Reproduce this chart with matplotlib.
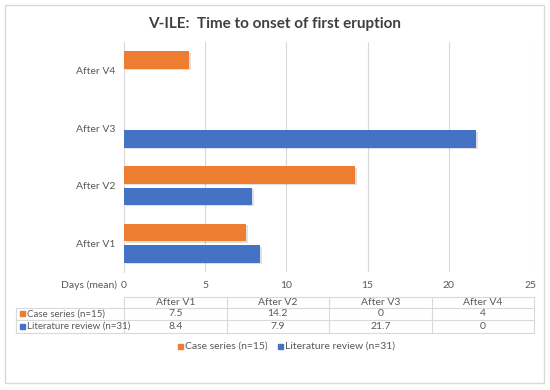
import matplotlib
matplotlib.use("Agg")
import matplotlib.pyplot as plt
from matplotlib.patches import Rectangle
import numpy as np

plt.rcParams['font.family'] = ['Lato', 'DejaVu Sans']

categories = ["After V1", "After V2", "After V3", "After V4"]
series_names = ["Case series (n=15)", "Literature review (n=31)"]
case_series = [7.5, 14.2, 0, 4]
literature = [8.4, 7.9, 21.7, 0]
case_labels = ["7.5", "14.2", "0", "4"]
lit_labels = ["8.4", "7.9", "21.7", "0"]
xticks = [0, 5, 10, 15, 20, 25]

orange = "#ED7D31"
blue = "#4472C4"
grey_txt = "#595959"
grid_c = "#D9D9D9"

W, H = 550, 390
fig = plt.figure(figsize=(W / 100, H / 100), dpi=100)


def fx(px):
    return px / W


def fy(py):
    return 1 - py / H


# outer border
fig.patches.append(Rectangle((fx(5), fy(383)), fx(539), 378 / H, transform=fig.transFigure,
                             fill=False, edgecolor=grid_c, lw=1))

ax_l, ax_r, ax_t, ax_b = 124, 530, 42, 272
ax = fig.add_axes([fx(ax_l), fy(ax_b), fx(ax_r - ax_l), (ax_b - ax_t) / H])

y = np.arange(len(categories))
h = 0.3
off = 0.185
for vals, col, d in [(case_series, orange, off), (literature, blue, -off)]:
    # soft shadow
    ax.barh(y + d - 0.025, vals, height=h, left=0.12, color="#000000", alpha=0.12, zorder=2)
    ax.barh(y + d, vals, height=h, color=col, zorder=3)

ax.set_xlim(0, 25)
ax.set_ylim(-0.5, len(categories) - 0.5)
ax.set_xticks(xticks)
ax.set_xticklabels([])
ax.tick_params(axis='x', length=0)
ax.tick_params(axis='y', length=0, labelsize=7.5, labelcolor=grey_txt, pad=6)
ax.set_yticks(y)
ax.set_yticklabels(categories)
ax.grid(axis='x', color=grid_c, lw=0.8, zorder=0)
for s in ["top", "right", "bottom"]:
    ax.spines[s].set_visible(False)
ax.spines["left"].set_color(grid_c)

fig.text(0.5, fy(24), "V-ILE:  Time to onset of first eruption", ha="center", va="center",
         fontsize=11, fontweight="bold", color="#404040")

# x tick labels row
for t in xticks:
    px = ax_l + (ax_r - ax_l) * t / 25
    fig.text(fx(px), fy(285), str(t), ha="center", va="center", fontsize=7.5, color=grey_txt)
fig.text(fx(117), fy(285), "Days (mean)", ha="right", va="center", fontsize=7.5, color=grey_txt)

# data table
tab_r = 534
col_w = (tab_r - ax_l) / len(categories)
row_y = [297, 307.5, 320, 333]
lab_l = 16


def hline(x0, x1, yy):
    fig.add_artist(plt.Line2D([fx(x0), fx(x1)], [fy(yy), fy(yy)], color=grid_c, lw=0.8))


def vline(xx, y0, y1):
    fig.add_artist(plt.Line2D([fx(xx), fx(xx)], [fy(y0), fy(y1)], color=grid_c, lw=0.8))


hline(ax_l, tab_r, row_y[0])
for yy in row_y[1:]:
    hline(lab_l, tab_r, yy)
vline(lab_l, row_y[1], row_y[3])
for i in range(len(categories) + 1):
    vline(ax_l + i * col_w, row_y[0], row_y[3])

for i, c in enumerate(categories):
    cx = ax_l + (i + 0.5) * col_w
    fig.text(fx(cx), fy((row_y[0] + row_y[1]) / 2), c, ha="center", va="center", fontsize=7.5, color=grey_txt)
    fig.text(fx(cx), fy((row_y[1] + row_y[2]) / 2), case_labels[i], ha="center", va="center", fontsize=7.5, color=grey_txt)
    fig.text(fx(cx), fy((row_y[2] + row_y[3]) / 2), lit_labels[i], ha="center", va="center", fontsize=7.5, color=grey_txt)

for r, (name, col) in enumerate(zip(series_names, [orange, blue])):
    cy = (row_y[r + 1] + row_y[r + 2]) / 2
    fig.patches.append(Rectangle((fx(20), fy(cy + 2.5)), fx(5), 5 / H, transform=fig.transFigure,
                                 color=col))
    fig.text(fx(27), fy(cy), name, ha="left", va="center", fontsize=7, color=grey_txt)

# legend
leg_y = 346
for name, col, lx in [(series_names[0], orange, 178), (series_names[1], blue, 278)]:
    fig.patches.append(Rectangle((fx(lx), fy(leg_y + 2.5)), fx(5), 5 / H, transform=fig.transFigure,
                                 color=col))
    fig.text(fx(lx + 7), fy(leg_y), name, ha="left", va="center", fontsize=7.5, color=grey_txt)

fig.savefig("out.png", dpi=100, facecolor="white")
